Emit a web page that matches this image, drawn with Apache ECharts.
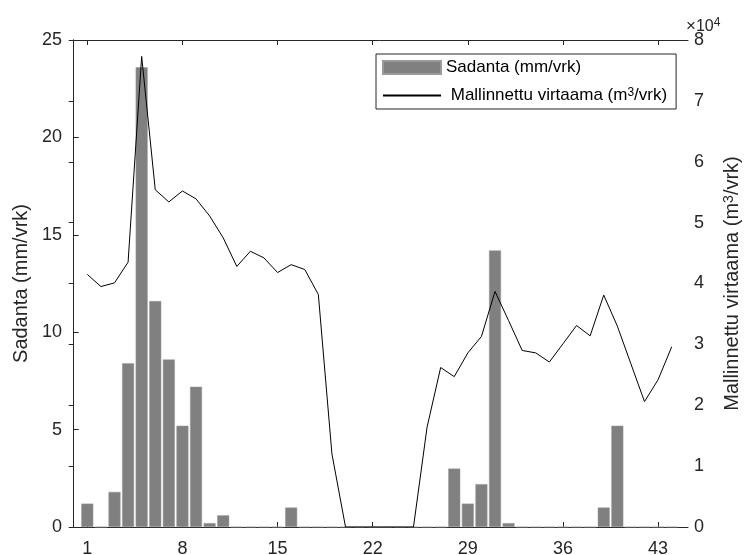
<!DOCTYPE html>
<html>
<head>
<meta charset="utf-8">
<script src="https://cdn.jsdelivr.net/npm/echarts@6/dist/echarts.min.js"></script>
<style>
  html, body { margin: 0; padding: 0; background: #fff; }
  #mainChart { width: 744px; height: 555px; }
</style>
</head>
<body>
<div id="mainChart"></div>
<script>
// days 1..44
var days = [];
for (var d = 1; d <= 44; d++) days.push(d);

// Sadanta (mm/vrk)
var rain = [1.2, 0, 1.8, 8.4, 23.6, 11.6, 8.6, 5.2, 7.2, 0.2, 0.6,
            0, 0, 0, 0, 1.0, 0, 0, 0, 0, 0, 0, 0, 0, 0, 0, 0,
            3.0, 1.2, 2.2, 14.2, 0.2, 0, 0, 0, 0, 0, 0,
            1.0, 5.2, 0, 0, 0, 0];

// Mallinnettu virtaama (m3/vrk)
var flow = [41500, 39500, 40100, 43500, 77300, 55400, 53400, 55200, 53900, 51100,
            47500, 42800, 45300, 44200, 41800, 43100, 42300, 38200, 12000, 0,
            0, 0, 0, 0, 0, 16400, 26200, 24700, 28600, 31300,
            38700, 33900, 29000, 28600, 27100, 30100, 33100, 31400, 38100, 33000,
            26800, 20600, 24200, 29600];

var xTicks = [1, 8, 15, 22, 29, 36, 43];

var rainName = 'Sadanta (mm/vrk)';
var flowName = 'Mallinnettu virtaama (m³/vrk)';

var ink = '#262626';
var font = 'Liberation Sans, Arial, sans-serif';

// superscript "3" through rich text
var sup = t => t.replace('³', '{s|3}');

var myChart = echarts.init(document.getElementById('mainChart'), null, { renderer: 'canvas' });

var option = {
    animation: false,
    textStyle: { fontFamily: font, color: ink },
    grid: {
        left: 71,
        right: 56,
        top: 40,
        bottom: 28,
        containLabel: false,
        outerBoundsMode: 'none'
    },
    title: {
        text: '{x|×}{t|10}{s|4}',
        left: 686,
        top: 17,
        padding: 0,
        textStyle: {
            fontFamily: font, fontSize: 16, fontWeight: 'normal', color: ink,
            rich: {
                x: { fontFamily: font, fontSize: 17, color: ink, verticalAlign: 'bottom', lineHeight: 18 },
                t: { fontFamily: font, fontSize: 16, color: ink, verticalAlign: 'bottom', lineHeight: 18 },
                s: { fontFamily: font, fontSize: 12, color: ink, verticalAlign: 'top', lineHeight: 12 }
            }
        }
    },
    legend: {
        orient: 'vertical',
        left: 376,
        top: 54,
        padding: [5, 9, 5, 6],
        itemWidth: 58,
        itemHeight: 13,
        itemGap: 11,
        borderColor: ink,
        borderWidth: 1,
        backgroundColor: '#fff',
        formatter: name => name === flowName ? ' ' + sup(name) : name,
        textStyle: {
            fontFamily: font, fontSize: 17, color: '#000',
            rich: {
                s: { fontFamily: font, fontSize: 12, color: '#000', verticalAlign: 'top', lineHeight: 12 }
            }
        },
        data: [
            { name: rainName, icon: 'rect' },
            { name: flowName, itemStyle: { opacity: 0 } }
        ]
    },
    xAxis: [
        {
            type: 'value',
            min: -0.2,
            max: 45.2,
            position: 'bottom',
            splitLine: { show: false },
            axisLine: { show: true, onZero: false, lineStyle: { color: ink, width: 1 } },
            axisTick: { show: true, inside: true, length: 5, customValues: xTicks, lineStyle: { color: ink } },
            axisLabel: { show: true, customValues: xTicks, fontSize: 18, color: ink, margin: 13, fontFamily: font }
        },
        {
            type: 'value',
            min: -0.2,
            max: 45.2,
            position: 'top',
            splitLine: { show: false },
            axisLine: { show: true, onZero: false, lineStyle: { color: ink, width: 1 } },
            axisTick: { show: true, inside: true, length: 5, customValues: xTicks, lineStyle: { color: ink } },
            axisLabel: { show: false }
        }
    ],
    yAxis: [
        {
            type: 'value',
            min: 0,
            max: 25,
            interval: 5,
            position: 'left',
            name: rainName,
            nameLocation: 'middle',
            nameGap: 36,
            nameRotate: 90,
            nameTextStyle: { fontFamily: font, fontSize: 20, color: ink },
            splitLine: { show: false },
            axisLine: { show: true, lineStyle: { color: ink, width: 1 } },
            axisTick: { show: true, inside: true, length: 5, lineStyle: { color: ink } },
            axisLabel: { fontSize: 18, color: ink, margin: 9, fontFamily: font }
        },
        {
            type: 'value',
            min: 0,
            max: 80000,
            interval: 10000,
            position: 'right',
            name: sup(flowName),
            nameLocation: 'middle',
            nameGap: 34,
            nameRotate: 90,
            nameTextStyle: {
                fontFamily: font, fontSize: 20, color: ink,
                rich: {
                    s: { fontFamily: font, fontSize: 14, color: ink, verticalAlign: 'top', lineHeight: 14 }
                }
            },
            splitLine: { show: false },
            axisLine: { show: true, lineStyle: { color: ink, width: 1 } },
            axisTick: { show: true, inside: true, length: 5, lineStyle: { color: ink } },
            axisLabel: {
                fontSize: 18, color: ink, margin: 6, fontFamily: font,
                formatter: v => String(v / 10000)
            }
        }
    ],
    series: [
        {
            name: rainName,
            type: 'bar',
            xAxisIndex: 0,
            yAxisIndex: 0,
            barWidth: 12,
            itemStyle: { color: '#808080', borderColor: '#9a9a9a', borderWidth: 0.5 },
            data: days.map((d, i) => [d, rain[i]])
        },
        {
            name: flowName,
            type: 'line',
            xAxisIndex: 0,
            yAxisIndex: 1,
            symbol: 'none',
            lineStyle: { color: '#000', width: 1 },
            itemStyle: { color: '#000' },
            data: days.map((d, i) => [d, flow[i]])
        }
    ]
};

myChart.setOption(option);
</script>
</body>
</html>
